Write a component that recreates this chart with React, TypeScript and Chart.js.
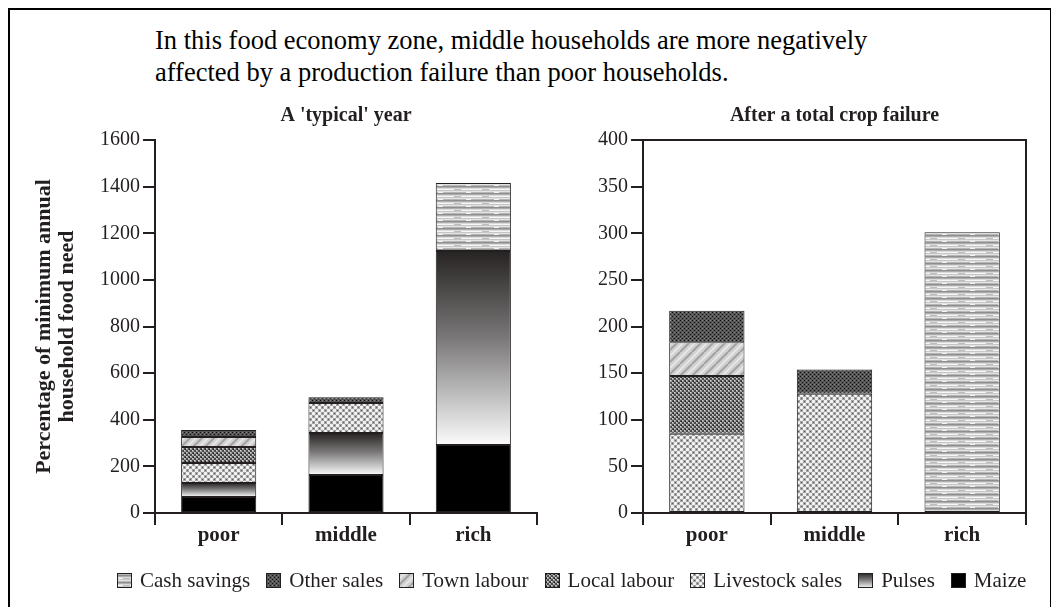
import React, { useEffect, useRef } from "react";
import { Chart, registerables } from "chart.js";

Chart.register(...registerables);

// ---------------- data ----------------
const categories = ["poor", "middle", "rich"];
const seriesNames = ["Maize", "Pulses", "Livestock sales", "Local labour", "Town labour", "Other sales", "Cash savings"];
const legendOrder = ["Cash savings", "Other sales", "Town labour", "Local labour", "Livestock sales", "Pulses", "Maize"];

// A 'typical' year
const typicalMaize = [69, 163, 292];
const typicalPulses = [60, 180, 832];
const typicalLivestock = [86, 129, null];
const typicalLocalLabour = [68, null, null];
const typicalTownLabour = [43, null, null];
const typicalOtherSales = [30, 24, null];
const typicalCashSavings = [null, null, 292];

// After a total crop failure
const failureMaize = [null, null, null];
const failurePulses = [null, null, null];
const failureLivestock = [85, 128, null];
const failureLocalLabour = [62, null, null];
const failureTownLabour = [36, null, null];
const failureOtherSales = [34, 26, null];
const failureCashSavings = [null, null, 301];

const typicalYTicks = [0, 200, 400, 600, 800, 1000, 1200, 1400, 1600];
const failureYTicks = [0, 50, 100, 150, 200, 250, 300, 350, 400];

const headingLines = [
  "In this food economy zone, middle households are more negatively",
  "affected by a production failure than poor households.",
];
const typicalTitle = "A 'typical' year";
const failureTitle = "After a total crop failure";
const yAxisTitle = ["Percentage of minimum annual", "household food need"];

// ---------------- styling ----------------
const INK = "#231f20";
const FAMILY = "'Liberation Serif', 'Times New Roman', serif";

function makeTile(w: number, h: number, draw: (g: CanvasRenderingContext2D) => void) {
  const c = document.createElement("canvas");
  c.width = w;
  c.height = h;
  const g = c.getContext("2d")!;
  draw(g);
  return c;
}

function px(g: CanvasRenderingContext2D, x: number, y: number, col: string, w = 1, h = 1) {
  g.fillStyle = col;
  g.fillRect(x, y, w, h);
}

function makePattern(name: string): CanvasPattern | string {
  const ctx = document.createElement("canvas").getContext("2d")!;
  let tile: HTMLCanvasElement | null = null;
  if (name === "Cash savings") {
    const rows = ["#e4e4e4", "#b6b6b6", "#8e8e8e", "#adadad", "#dadada", "#f6f6f6", "#c6c6c6"];
    tile = makeTile(28, 7, (g) => {
      rows.forEach((c, i) => px(g, 0, i, c, 28, 1));
      px(g, 6, 5, "#bdbdbd", 7, 1);
      px(g, 18, 1, "#f2f2f2", 5, 1);
    });
  } else if (name === "Other sales") {
    tile = makeTile(4, 4, (g) => {
      px(g, 0, 0, "#555555", 4, 4);
      px(g, 0, 0, "#0e0e0e");
      px(g, 2, 2, "#0e0e0e");
      px(g, 2, 0, "#868686");
      px(g, 0, 2, "#767676");
    });
  } else if (name === "Town labour") {
    tile = makeTile(12, 12, (g) => {
      px(g, 0, 0, "#d2d2d2", 12, 12);
      g.strokeStyle = "#a2a2a2";
      g.lineWidth = 2;
      for (let k = -12; k <= 24; k += 12) {
        g.beginPath();
        g.moveTo(k, 12);
        g.lineTo(k + 12, 0);
        g.stroke();
      }
      g.strokeStyle = "#ebebeb";
      g.lineWidth = 1.5;
      for (let k = -6; k <= 24; k += 12) {
        g.beginPath();
        g.moveTo(k, 12);
        g.lineTo(k + 12, 0);
        g.stroke();
      }
    });
  } else if (name === "Local labour") {
    tile = makeTile(4, 4, (g) => {
      px(g, 0, 0, "#4a4a4a", 4, 4);
      px(g, 2, 0, "#9e9e9e", 2, 2);
      px(g, 0, 2, "#9e9e9e", 2, 2);
      px(g, 2, 0, "#d6d6d6");
      px(g, 0, 2, "#d6d6d6");
      px(g, 1, 1, "#1a1a1a");
    });
  } else if (name === "Livestock sales") {
    tile = makeTile(6, 6, (g) => {
      px(g, 0, 0, "#eeeeee", 6, 6);
      px(g, 3, 0, "#a4a4a4", 3, 3);
      px(g, 0, 3, "#a4a4a4", 3, 3);
      px(g, 4, 1, "#5a5a5a");
      px(g, 1, 4, "#5a5a5a");
      px(g, 1, 1, "#ffffff");
    });
  } else if (name === "Maize") {
    return "#000000";
  } else {
    return "#777777";
  }
  return ctx.createPattern(tile!, "repeat")!;
}

function pulsesGradient(ctx: CanvasRenderingContext2D, top: number, bottom: number) {
  const g = ctx.createLinearGradient(0, top, 0, bottom);
  g.addColorStop(0, "#272323");
  g.addColorStop(0.45, "#7a7878");
  g.addColorStop(1, "#fbfbfb");
  return g;
}

function buildDatasets(series: (number | null)[][]) {
  return series.map((values, k) => {
    const name = seriesNames[k];
    const below = categories.map((_, i) => {
      let s = 0;
      for (let j = 0; j < k; j++) s += series[j][i] ?? 0;
      return s;
    });
    let bg: any;
    if (name === "Pulses") {
      bg = (c: any) => {
        if (!c || c.type !== "data") return "#777777";
        const v = values[c.dataIndex];
        const y = c.chart && c.chart.scales ? c.chart.scales.y : null;
        if (v == null || !y) return "#777777";
        const base = below[c.dataIndex];
        const t = y.getPixelForValue(base + v);
        const b = y.getPixelForValue(base);
        if (!Number.isFinite(t) || !Number.isFinite(b) || t === b) return "#777777";
        return pulsesGradient(c.chart.ctx, t, b);
      };
    } else {
      bg = makePattern(name);
    }
    return {
      label: name,
      data: values,
      backgroundColor: bg,
      borderColor: INK,
      borderWidth: 1,
      borderSkipped: false,
      categoryPercentage: 1,
      barPercentage: 0.59,
    };
  });
}

const framePlugin = {
  id: "frameTopRight",
  afterDraw(chart: any) {
    const { ctx, chartArea } = chart;
    ctx.save();
    ctx.strokeStyle = INK;
    ctx.lineWidth = 2;
    ctx.beginPath();
    ctx.moveTo(chartArea.left, chartArea.top);
    ctx.lineTo(chartArea.right, chartArea.top);
    ctx.lineTo(chartArea.right, chartArea.bottom);
    ctx.stroke();
    ctx.restore();
  },
};

function makeOptions(yTicks: number[], title: string, yWidth: number, padRight: number, withYTitle: boolean) {
  return {
    responsive: false,
    animation: false,
    events: [],
    layout: { padding: { left: 0, right: padRight, top: 0, bottom: 0 } },
    plugins: {
      legend: { display: false },
      tooltip: { enabled: false },
      title: {
        display: true,
        text: title,
        fullSize: false,
        color: INK,
        font: { family: FAMILY, size: 20, weight: "bold", lineHeight: 1.2 },
        padding: { top: 4, bottom: 12 },
      },
    },
    scales: {
      x: {
        type: "category",
        stacked: true,
        grid: { offset: true, drawOnChartArea: false, drawTicks: true, tickLength: 12, color: INK, lineWidth: 2 },
        border: { display: true, color: INK, width: 2 },
        ticks: { color: INK, font: { family: FAMILY, size: 21, weight: "bold" }, padding: -2 },
        afterFit: (s: any) => {
          s.height = 57;
        },
      },
      y: {
        stacked: true,
        min: yTicks[0],
        max: yTicks[yTicks.length - 1],
        ticks: {
          stepSize: yTicks[1] - yTicks[0],
          color: INK,
          font: { family: FAMILY, size: 20 },
          padding: 3,
          callback: (v: any) => String(v),
        },
        grid: { drawOnChartArea: false, drawTicks: true, tickLength: 12, color: INK, lineWidth: 2 },
        border: { display: true, color: INK, width: 2 },
        title: {
          display: withYTitle,
          text: yAxisTitle,
          color: INK,
          font: { family: FAMILY, size: 22, weight: "bold", lineHeight: 1.05 },
          padding: { top: 33, bottom: 0 },
        },
        afterFit: (s: any) => {
          s.width = yWidth;
        },
      },
    },
  } as any;
}

function Swatch({ name }: { name: string }) {
  const ref = useRef<HTMLCanvasElement>(null);
  useEffect(() => {
    const c = ref.current!;
    const g = c.getContext("2d")!;
    g.clearRect(0, 0, 15, 15);
    if (name === "Pulses") g.fillStyle = pulsesGradient(g, 0, 15);
    else g.fillStyle = makePattern(name) as any;
    g.fillRect(0, 0, 15, 15);
    g.strokeStyle = INK;
    g.lineWidth = 1;
    g.strokeRect(0.5, 0.5, 14, 14);
  }, [name]);
  return <canvas ref={ref} width={15} height={15} style={{ width: 15, height: 15, display: "block", marginRight: 8 }} />;
}

function BarChart(props: {
  left: number;
  width: number;
  series: (number | null)[][];
  yTicks: number[];
  title: string;
  yWidth: number;
  padRight: number;
  withYTitle: boolean;
  frame: boolean;
}) {
  const ref = useRef<HTMLCanvasElement>(null);
  useEffect(() => {
    const chart = new Chart(ref.current!, {
      type: "bar",
      data: { labels: categories, datasets: buildDatasets(props.series) as any },
      options: makeOptions(props.yTicks, props.title, props.yWidth, props.padRight, props.withYTitle),
      plugins: props.frame ? [framePlugin as any] : [],
    });
    return () => chart.destroy();
  }, []);
  return (
    <div style={{ position: "absolute", left: props.left, top: 100, width: props.width, height: 470 }}>
      <canvas ref={ref} width={props.width} height={470} style={{ width: props.width, height: 470, display: "block" }} />
    </div>
  );
}

export default function App() {
  return (
    <div
      style={{
        position: "fixed",
        left: 0,
        top: 0,
        width: 1051,
        height: 607,
        background: "#ffffff",
        overflow: "hidden",
        fontFamily: FAMILY,
        color: INK,
      }}
    >
      <div
        style={{
          position: "absolute",
          left: 8,
          top: 8,
          width: 1040,
          height: 700,
          borderLeft: "2px solid #000",
          borderTop: "2px solid #000",
          borderRight: "2px solid #000",
        }}
      />
      <div style={{ position: "absolute", left: 155, top: 24, fontSize: 26.5, lineHeight: "32px", whiteSpace: "nowrap", color: "#000" }}>
        {headingLines.map((l, i) => (
          <div key={i}>{l}</div>
        ))}
      </div>
      <BarChart
        left={0}
        width={560}
        series={[typicalMaize, typicalPulses, typicalLivestock, typicalLocalLabour, typicalTownLabour, typicalOtherSales, typicalCashSavings]}
        yTicks={typicalYTicks}
        title={typicalTitle}
        yWidth={155}
        padRight={23}
        withYTitle={true}
        frame={false}
      />
      <BarChart
        left={560}
        width={491}
        series={[failureMaize, failurePulses, failureLivestock, failureLocalLabour, failureTownLabour, failureOtherSales, failureCashSavings]}
        yTicks={failureYTicks}
        title={failureTitle}
        yWidth={83}
        padRight={25}
        withYTitle={false}
        frame={true}
      />
      <div
        style={{
          position: "absolute",
          left: 117,
          top: 568,
          height: 24,
          display: "flex",
          alignItems: "center",
          fontSize: 21,
          lineHeight: "24px",
          whiteSpace: "nowrap",
        }}
      >
        {legendOrder.map((n) => (
          <div key={n} style={{ display: "flex", alignItems: "center", marginRight: 16 }}>
            <Swatch name={n} />
            <span>{n}</span>
          </div>
        ))}
      </div>
    </div>
  );
}
